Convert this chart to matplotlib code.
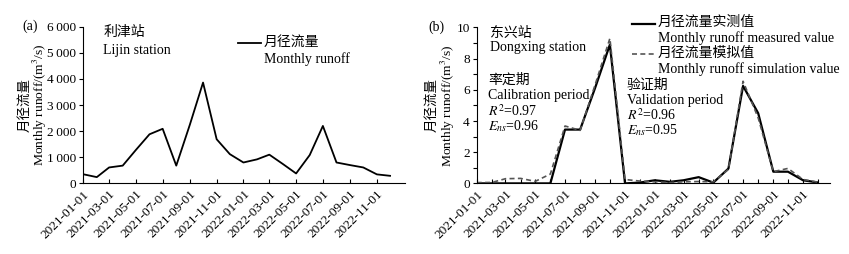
import numpy as np
import pandas as pd
import matplotlib
matplotlib.use('Agg')
import matplotlib.pyplot as plt
import matplotlib.dates as mdates
from matplotlib.ticker import FuncFormatter, MultipleLocator, FixedLocator
from matplotlib.legend_handler import HandlerLine2D

plt.rcParams['font.family'] = ['Liberation Serif', 'Noto Sans CJK SC']
plt.rcParams['mathtext.fontset'] = 'stix'
plt.rcParams['font.size'] = 10

# monthly dates
months = pd.date_range('2021-01-01', periods=24, freq='MS')

# (a) Lijin station monthly runoff
lijin_runoff = [350, 240, 610, 680, 1280, 1880, 2090, 680, 2250, 3860, 1690, 1120,
                800, 920, 1100, 740, 380, 1085, 2200, 800, 700, 610, 345, 290]

# (b) Dongxing station measured / simulated
dx_measured = [0.0, 0.0, 0.0, 0.0, 0.0, 0.0, 3.45, 3.45, 6.15, 8.9, 0.0, 0.05,
               0.2, 0.1, 0.2, 0.4, 0.05, 0.95, 6.25, 4.5, 0.75, 0.75, 0.2, 0.06]
dx_simulated = [0.05, 0.06, 0.3, 0.32, 0.13, 0.6, 3.68, 3.4, 6.35, 9.3, 0.25, 0.15,
                0.1, 0.05, 0.1, 0.12, 0.1, 0.9, 6.55, 4.2, 0.75, 0.96, 0.25, 0.08]

calib_lines = ['率定期', 'Calibration period', '$R^2$=0.97', '$E_{ns}$=0.96']
valid_lines = ['验证期', 'Validation period', '$R^2$=0.96', '$E_{ns}$=0.95']


class TopLineHandler(HandlerLine2D):
    # put the legend line next to the first line of a two-line label
    def __init__(self, shift, **kw):
        super().__init__(**kw)
        self.shift = shift

    def create_artists(self, legend, orig_handle, xdescent, ydescent, width, height,
                       fontsize, trans):
        arts = super().create_artists(legend, orig_handle, xdescent, ydescent, width,
                                      height, fontsize, trans)
        for a in arts:
            a.set_ydata(np.asarray(a.get_ydata()) + self.shift)
        return arts


fig = plt.figure(figsize=(8.49, 2.54), dpi=100)
ax1 = fig.add_axes([0.098, 0.278, 0.379, 0.617])
ax2 = fig.add_axes([0.5615, 0.278, 0.416, 0.614])


def style_axis(ax, xmax):
    ax.spines['top'].set_visible(False)
    ax.spines['right'].set_visible(False)
    ax.tick_params(axis='y', which='both', direction='out', length=3, width=0.8, labelsize=9.5, pad=2)
    ax.tick_params(axis='x', which='both', direction='in', length=3, width=0.8, labelsize=9.5)
    ax.xaxis.set_major_locator(FixedLocator(mdates.date2num(months[::2])))
    ax.xaxis.set_major_formatter(mdates.DateFormatter('%Y-%m-%d'))
    for lab in ax.get_xticklabels():
        lab.set_rotation(45)
        lab.set_ha('right')
        lab.set_rotation_mode('anchor')
    ax.set_xlim(months[0], pd.Timestamp(xmax))


# ---- panel (a)
ax1.plot(months, lijin_runoff, color='black', lw=1.3, label='月径流量\nMonthly runoff')
style_axis(ax1, '2023-01-04')
ax1.set_ylim(0, 6000)
ax1.yaxis.set_major_locator(MultipleLocator(1000))
ax1.yaxis.set_major_formatter(FuncFormatter(lambda v, p: '{:,}'.format(int(v)).replace(',', '\u2009')))
ax1.set_ylabel('月径流量\nMonthly runoff/(m$^3$/s)', fontsize=9.7, linespacing=1.0)
ax1.yaxis.set_label_coords(-0.106, 0.5)
ax1.text(0.062, 0.96, '利津站', transform=ax1.transAxes, va='center', ha='left')
ax1.text(0.062, 0.851, 'Lijin station', transform=ax1.transAxes, va='center', ha='left')
ax1.text(-0.19, 1.0, '(a)', transform=ax1.transAxes, va='center', ha='left')
leg1 = ax1.legend(loc='upper left', bbox_to_anchor=(0.465, 0.975), frameon=False,
                  handlelength=1.6, handletextpad=0.25, borderaxespad=0,
                  handler_map={ax1.get_lines()[0]: TopLineHandler(6)})
for t in leg1.get_texts():
    t.set_linespacing(1.25)

# ---- panel (b)
ax2.plot(months, dx_measured, color='black', lw=1.6, label='月径流量实测值\nMonthly runoff measured value')
ax2.plot(months, dx_simulated, color='#555555', lw=1.2, ls=(0, (3, 2)),
         label='月径流量模拟值\nMonthly runoff simulation value')
style_axis(ax2, '2022-12-26')
ax2.xaxis.set_minor_locator(FixedLocator(mdates.date2num(months)))
ax2.set_ylim(0, 10)
ax2.yaxis.set_major_locator(MultipleLocator(2))
ax2.yaxis.set_minor_locator(MultipleLocator(1))
ax2.set_ylabel('月径流量\nMonthly runoff/(m$^3$/s)', fontsize=9.7, linespacing=1.0)
ax2.yaxis.set_label_coords(-0.057, 0.5)
ax2.text(0.038, 0.963, '东兴站', transform=ax2.transAxes, va='center', ha='left')
ax2.text(0.038, 0.874, 'Dongxing station', transform=ax2.transAxes, va='center', ha='left')
for i, (c, v) in enumerate(zip(calib_lines, valid_lines)):
    ax2.text(0.032, 0.662 - 0.098 * i, c, transform=ax2.transAxes, va='center', ha='left')
    ax2.text(0.425, 0.630 - 0.096 * i, v, transform=ax2.transAxes, va='center', ha='left')
ax2.text(-0.138, 1.0, '(b)', transform=ax2.transAxes, va='center', ha='left')
l_meas, l_sim = ax2.get_lines()
leg2 = ax2.legend(loc='upper left', bbox_to_anchor=(0.425, 1.11), frameon=False,
                  handlelength=1.6, handletextpad=0.25, borderaxespad=0, labelspacing=0.1,
                  handler_map={l_meas: TopLineHandler(5), l_sim: TopLineHandler(5)})
for t in leg2.get_texts():
    t.set_linespacing(1.2)

fig.savefig('out.png', dpi=100)
